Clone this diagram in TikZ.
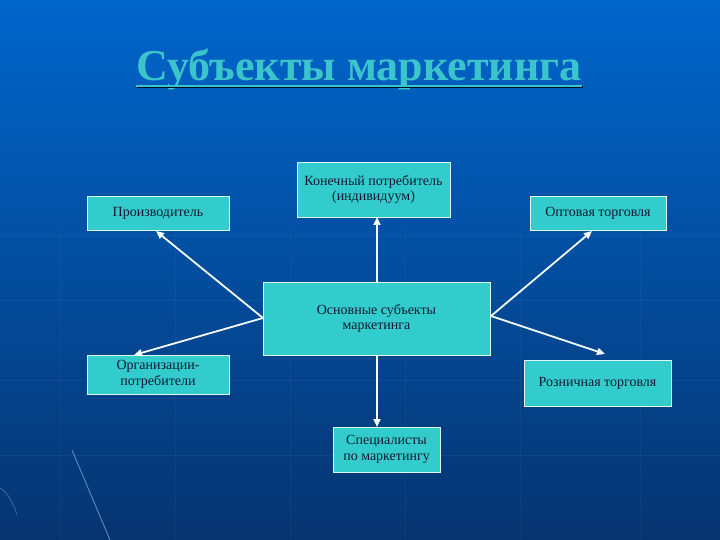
\documentclass[tikz,border=0pt]{standalone}
\usepackage{fontspec}
\setmainfont{Liberation Serif}
\usetikzlibrary{arrows.meta}
\definecolor{bgtop}{RGB}{0,102,204}
\definecolor{bgbot}{RGB}{6,52,112}
\definecolor{turq}{RGB}{51,204,204}
\definecolor{titlec}{RGB}{60,196,204}
\definecolor{boxtext}{RGB}{20,24,50}
\tikzset{
  box/.style={draw=white!85!turq, line width=0.9pt, fill=turq, text=boxtext,
    font=\fontsize{14}{15.5}\selectfont, align=center, inner sep=0pt},
  conn/.style={draw=white!95!turq, line width=1.8pt, -{Triangle[length=8pt,width=7pt]}},
}
\begin{document}
\begin{tikzpicture}[x=1pt,y=-1pt]
\shade[top color=bgtop, bottom color=bgbot] (0,0) rectangle (720,540);
\useasboundingbox (0,0) rectangle (720,540);
% faint grid lines
\foreach \yy in {235,300,380,455}
  \draw[white, opacity=0.05, line width=0.8pt] (0,\yy) -- (720,\yy);
\foreach \xx in {60,175,290,405,520,640}
  \draw[white, opacity=0.04, line width=0.8pt] (\xx,230) -- (\xx,540);
% light streaks bottom-left
\draw[white!60!bgtop, opacity=0.6, line width=0.9pt] (72,450) -- (110,540);
\draw[white!60!bgtop, opacity=0.35, line width=0.8pt] (0,488) .. controls (8,492) and (14,505) .. (17,515);

% title
\node[anchor=base, text=titlec, font=\bfseries\fontsize{44}{50}\selectfont, inner sep=0pt] (title) at (359,81)
  {Субъекты маркетинга};
\draw[black!70!bgbot, line width=2.2pt] ([xshift=1pt,yshift=-6pt]title.base west) -- ([xshift=1pt,yshift=-6pt]title.base east);
\draw[titlec, line width=2.2pt] ([yshift=-5pt]title.base west) -- ([yshift=-5pt]title.base east);

% boxes
\node[box, minimum width=227pt, minimum height=73pt] (c) at (376.5,318.5) {Основные субъекты\\маркетинга};
\node[box, minimum width=142pt, minimum height=34pt] (p) at (158,213) {Производитель};
\node[box, minimum width=153pt, minimum height=55pt] (k) at (373.5,189.5) {Конечный потребитель\\(индивидуум)};
\node[box, minimum width=136pt, minimum height=34pt] (o) at (598,213) {Оптовая торговля};
\node[box, minimum width=142pt, minimum height=39pt] (org) at (158,374.5) {Организации-\\потребители};
\node[box, minimum width=147pt, minimum height=46pt] (r) at (597.5,383) {Розничная торговля};
\node[box, minimum width=107pt, minimum height=45pt] (s) at (386.5,449.5) {Специалисты\\по маркетингу};

% connectors
\coordinate (cl) at (263,318);
\coordinate (cr) at (491,316);
\coordinate (ct) at (377,282);
\coordinate (cb) at (377,355);
\coordinate (pe) at (156,231);
\coordinate (orge) at (134,355);
\coordinate (oe) at (592,231);
\coordinate (re) at (605,354);
\coordinate (ke) at (377,217);
\coordinate (se) at (377,427);
\draw[conn] (cl) -- (pe);
\draw[conn] (cl) -- (orge);
\draw[conn] (cr) -- (oe);
\draw[conn] (cr) -- (re);
\draw[conn] (ct) -- (ke);
\draw[conn] (cb) -- (se);
\fill[white] (ct) circle (1.5pt);
\end{tikzpicture}
\end{document}
